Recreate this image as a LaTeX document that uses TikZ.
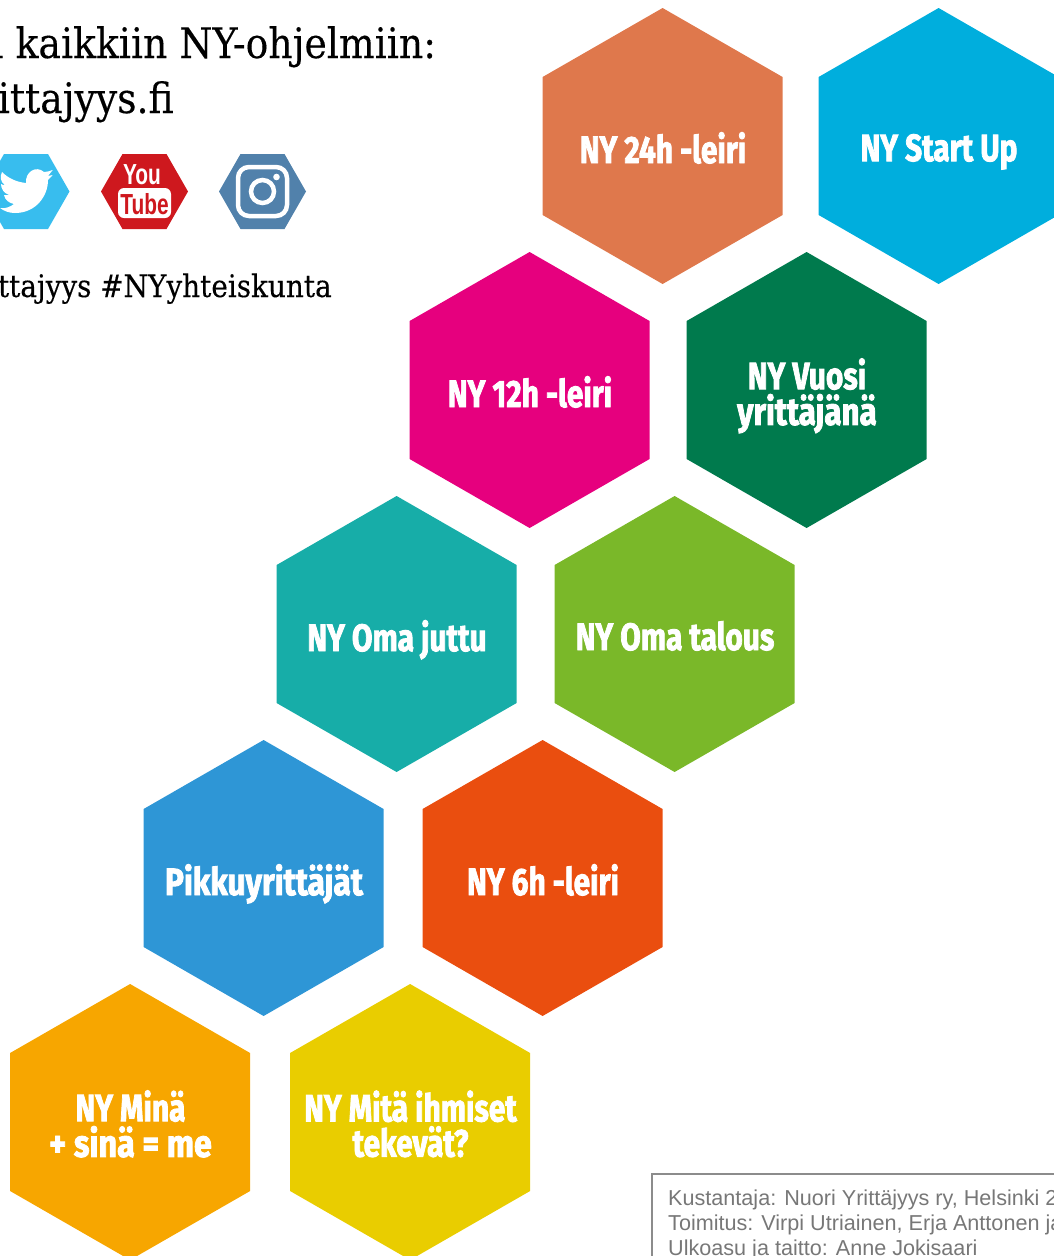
\documentclass[tikz,border=0pt]{standalone}
\usepackage{fontspec}
\usepackage{graphicx}
\setmainfont[FakeBold=0.25]{DejaVu Serif Condensed}
\newfontfamily\hexfont[FakeBold=2.4]{Fira Sans}
\newfontfamily\smallfont{Liberation Sans}
\newfontfamily\ytfont{Liberation Sans}
\definecolor{brick}{HTML}{DF784C}
\definecolor{cyanb}{HTML}{00AEDD}
\definecolor{magentab}{HTML}{E6007E}
\definecolor{greenb}{HTML}{007A4D}
\definecolor{tealb}{HTML}{17ADA8}
\definecolor{limeb}{HTML}{7AB829}
\definecolor{blueb}{HTML}{2E96D6}
\definecolor{redorange}{HTML}{EA4E0F}
\definecolor{amberb}{HTML}{F7A600}
\definecolor{yellowb}{HTML}{E9CD00}
\definecolor{twit}{HTML}{38BDEE}
\definecolor{ytred}{HTML}{CE181E}
\definecolor{igblue}{HTML}{5181AB}
\definecolor{creditgray}{HTML}{777777}
\tikzset{
  hexlabel/.style={text=white,align=center,font=\hexfont\bfseries\fontsize{38}{36}\selectfont,inner sep=0pt},
  headtext/.style={anchor=base east,inner sep=0pt,text=black},
  credit/.style={anchor=base west,inner sep=0pt,text=creditgray,font=\smallfont\fontsize{21.6}{21}\selectfont},
}
\newcommand{\wider}[2]{\scalebox{#1}[1]{#2}}
\newcommand{\hexcell}[5]{%
  \fill[#4] (#2-0.4,#3) ++(0,-138) -- ++(120,69) -- ++(0,138) -- ++(-120,69) -- ++(-120,-69) -- ++(0,-138) -- cycle;
  \node[hexlabel] (#1) at (#2,#3+7) {\scalebox{0.785}[1]{\begin{tabular}{@{}c@{}}#5\end{tabular}}};
}
\newcommand{\iconhex}[3]{%
  \fill[#3] (#1-22,#2-37.5) -- (#1+22,#2-37.5) -- (#1+43.5,#2) -- (#1+22,#2+37.5) -- (#1-22,#2+37.5) -- (#1-43.5,#2) -- cycle;
}
\begin{document}
\begin{tikzpicture}[x=1pt,y=-1pt]
\useasboundingbox (0,0) rectangle (1054,1256);
\clip (0,0) rectangle (1054,1256);
\hexcell{h24}{663}{146}{brick}{NY 24h -leiri}
\hexcell{hstart}{939}{146}{cyanb}{NY Start Up}
\hexcell{h12}{530}{390}{magentab}{NY 12h -leiri}
\hexcell{hvuosi}{807}{390}{greenb}{NY Vuosi\\[-6pt]\wider{1.05}{yrittäjänä}}
\hexcell{hjuttu}{397}{634}{tealb}{NY Oma juttu}
\hexcell{htalous}{675}{634}{limeb}{NY Oma talous}
\hexcell{hpikku}{264}{878}{blueb}{\wider{1.06}{Pikkuyrittäjät}}
\hexcell{h6}{543}{878}{redorange}{NY 6h -leiri}
\hexcell{hmina}{130.5}{1122}{amberb}{NY Minä\\[-6pt]\wider{1.08}{+ sinä = me}}
\hexcell{hmita}{410.5}{1122}{yellowb}{NY Mitä ihmiset\\[-6pt]tekevät?}
% heading
\node[headtext,font=\fontsize{42}{42}\selectfont] (t1) at (436,58) {a kaikkiin NY-ohjelmiin:};
\node[headtext,font=\fontsize{42}{42}\selectfont] (t2) at (174,113) {yrittajyys.fi};
\node[headtext,font=\fontsize{31}{31}\selectfont] (t3) at (332,297) {ttajyys \#NYyhteiskunta};
% twitter
\iconhex{26}{191.5}{twit}
\fill[white] (2,172) .. controls (8,178) and (16,182) .. (26,183)
  .. controls (25,172) and (36,165) .. (44,172)
  .. controls (47,172) and (50,171) .. (52.7,170) -- (48,176) -- (52.7,175)
  .. controls (51,177) and (49,179) .. (48,180)
  .. controls (48,196) and (36,213) .. (15,213)
  .. controls (9,213) and (4,211) .. (0,208)
  .. controls (5,209) and (10,207) .. (14,204)
  .. controls (9,203) and (5,200) .. (4,195)
  .. controls (5,195) and (7,195) .. (9,195)
  .. controls (4,193) and (1,189) .. (1,184)
  .. controls (2,185) and (4,185) .. (5,185)
  .. controls (0,182) and (0,176) .. (2,172) -- cycle;
% youtube
\iconhex{144.5}{191.5}{ytred}
\node[inner sep=0pt,text=white,font=\ytfont\bfseries\fontsize{29}{29}\selectfont] (ytyou) at (142,175) {\scalebox{0.72}[1]{You}};
\fill[white,rounded corners=6pt] (118,188) rectangle (171,218);
\node[inner sep=0pt,text=ytred,font=\ytfont\bfseries\fontsize{29}{29}\selectfont] (yttube) at (144.5,204) {\scalebox{0.72}[1]{Tube}};
% instagram
\iconhex{262.5}{191.5}{igblue}
\draw[white,line width=4.5pt,rounded corners=11pt] (238,167) rectangle (287,216);
\draw[white,line width=4.5pt] (262.5,191.5) circle (11.5);
\fill[white] (276.5,177) circle (3.3);
% credits
\draw[gray!90,line width=2pt] (652,1256) -- (652,1173.5) -- (1054,1173.5);
\node[credit] (c1) at (668,1205) {Kustantaja: Nuori Yrittäjyys ry, Helsinki 2};
\node[credit] (c2) at (668,1230.5) {Toimitus: Virpi Utriainen, Erja Anttonen ja};
\node[credit] (c3) at (668,1255) {Ulkoasu ja taitto: Anne Jokisaari};
\end{tikzpicture}
\end{document}
